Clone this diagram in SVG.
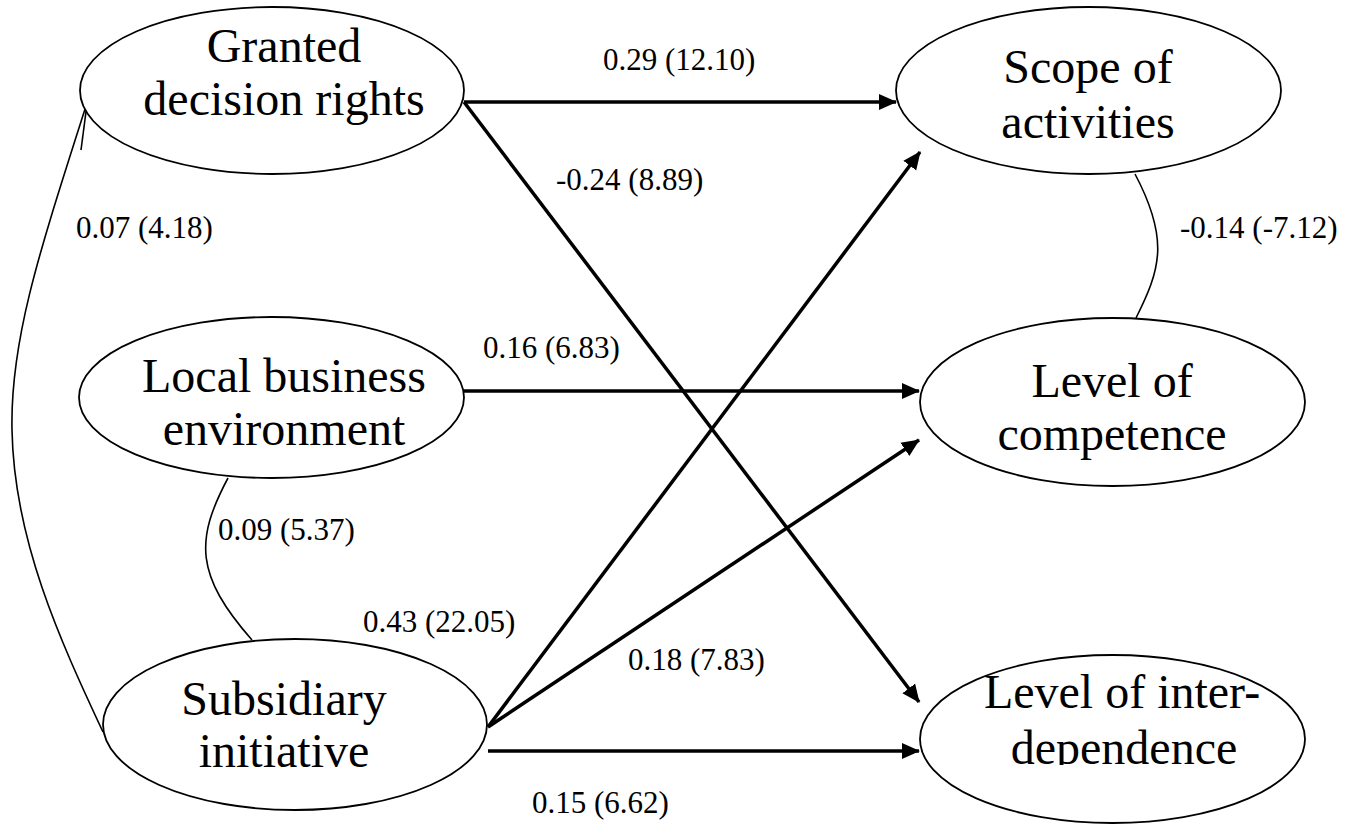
<svg xmlns="http://www.w3.org/2000/svg" width="1361" height="825" viewBox="0 0 1361 825">
<style>
.node ellipse{fill:#fff;stroke:#000;stroke-width:1.8}
.nt{font-family:"Liberation Serif","Times New Roman",serif;font-size:48px;fill:#000;text-anchor:middle}
.lb{font-family:"Liberation Serif","Times New Roman",serif;font-size:31px;fill:#000}
.arrow{stroke:#000;stroke-width:3.5;fill:none;marker-end:url(#ah)}
.corr{stroke:#000;stroke-width:1.6;fill:none}
</style>
<defs>
<marker id="ah" markerUnits="userSpaceOnUse" markerWidth="18" markerHeight="18" refX="17" refY="8" orient="auto" viewBox="0 0 18 16">
<path d="M0,0 L18,8 L0,16 z" fill="#000"/>
</marker>
<clipPath id="clipInter"><rect x="900" y="600" width="461" height="165"/></clipPath>
</defs>
<g id="connectors">
<line class="arrow" x1="464" y1="102" x2="896" y2="102"/>
<line class="arrow" x1="464" y1="102" x2="919" y2="702"/>
<line class="arrow" x1="464" y1="391" x2="919" y2="391"/>
<line class="arrow" x1="488" y1="727" x2="920" y2="152"/>
<line class="arrow" x1="488" y1="727" x2="919" y2="440"/>
<line class="arrow" x1="488" y1="751" x2="919" y2="751"/>
<path class="corr" d="M86,106 C40,250 10,340 12,430 C14,540 60,640 103,732"/>
<path class="corr" d="M87,104 L81,150"/>
<path class="corr" d="M228,478 C195,540 195,575 252,640"/>
<path class="corr" d="M1135,174 C1170,240 1160,270 1136,318"/>
</g>
<g id="labels">
<text class="lb" x="603" y="70">0.29 (12.10)</text>
<text class="lb" x="556" y="190">-0.24 (8.89)</text>
<text class="lb" x="76" y="238">0.07 (4.18)</text>
<text class="lb" x="1180" y="238">-0.14 (-7.12)</text>
<text class="lb" x="483" y="358">0.16 (6.83)</text>
<text class="lb" x="218" y="540">0.09 (5.37)</text>
<text class="lb" x="363" y="632">0.43 (22.05)</text>
<text class="lb" x="628" y="670">0.18 (7.83)</text>
<text class="lb" x="532" y="813">0.15 (6.62)</text>
</g>
<g id="granted" class="node">
<ellipse cx="272" cy="90.5" rx="192" ry="83.5"/>
<text class="nt" x="284" y="62">Granted</text>
<text class="nt" x="284" y="115">decision rights</text>
</g>
<g id="scope" class="node">
<ellipse cx="1088.5" cy="90.5" rx="192.5" ry="83.5"/>
<text class="nt" x="1088" y="83">Scope of</text>
<text class="nt" x="1088" y="138">activities</text>
</g>
<g id="local" class="node">
<ellipse cx="271.5" cy="397.5" rx="192.5" ry="80.5"/>
<text class="nt" x="284" y="392">Local business</text>
<text class="nt" x="284" y="445">environment</text>
</g>
<g id="competence" class="node">
<ellipse cx="1112.5" cy="402" rx="192.5" ry="84"/>
<text class="nt" x="1112" y="397">Level of</text>
<text class="nt" x="1112" y="450">competence</text>
</g>
<g id="subsidiary" class="node">
<ellipse cx="295" cy="724.5" rx="192" ry="85.5"/>
<text class="nt" x="284" y="715">Subsidiary</text>
<text class="nt" x="284" y="767">initiative</text>
</g>
<g id="interdependence" class="node">
<ellipse cx="1112.5" cy="739" rx="192.5" ry="84"/>
<g clip-path="url(#clipInter)">
<text class="nt" x="1122" y="708">Level of inter-</text>
<text class="nt" x="1124" y="764">dependence</text>
</g>
</g>
</svg>
